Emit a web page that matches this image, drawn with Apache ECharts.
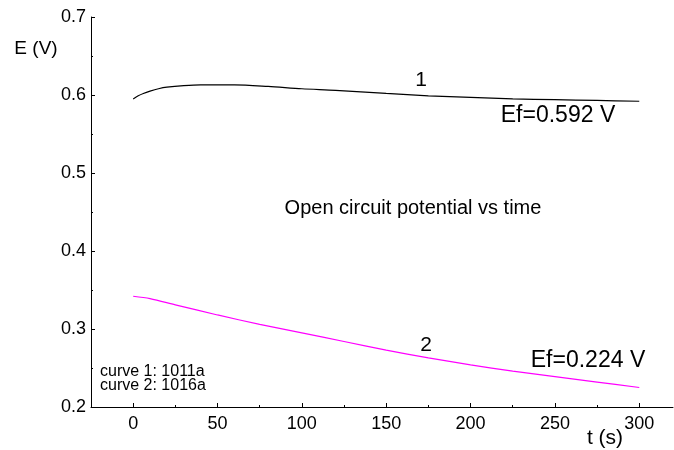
<!DOCTYPE html>
<html><head><meta charset="utf-8">
<script src="https://cdn.jsdelivr.net/npm/echarts@6/dist/echarts.min.js"></script>
<style>html,body{margin:0;padding:0;background:#fff}#c{width:674px;height:450px}</style>
</head><body><div id="c"></div>
<script>
// Curve 1 (1011a)
const t1 = [0, 3, 6, 10, 15, 20, 30, 40, 50, 60, 80, 100, 120, 150, 175, 200, 225, 250, 275, 300];
const e1 = [0.595, 0.599, 0.602, 0.605, 0.608, 0.610, 0.612, 0.613, 0.613, 0.613, 0.611, 0.608, 0.606, 0.602, 0.599, 0.597, 0.595, 0.594, 0.593, 0.592];
// Curve 2 (1016a)
const t2 = [0, 10, 25, 50, 75, 100, 125, 150, 175, 200, 225, 250, 275, 300];
const e2 = [0.342, 0.339, 0.331, 0.318, 0.306, 0.295, 0.284, 0.273, 0.263, 0.254, 0.246, 0.239, 0.232, 0.225];
const xMajor = [0, 50, 100, 150, 200, 250, 300];
const xMinor = [25, 75, 125, 175, 225, 275];
const yMinor = [0.25, 0.35, 0.45, 0.55, 0.65];

const FONT = '"Liberation Sans", Arial, sans-serif';
const chart = echarts.init(document.getElementById('c'), null, {renderer: 'canvas'});
const txt = (x, y, s, size, align) => ({
  type: 'text', x: x, y: y,
  style: {text: s, font: size + 'px ' + FONT, fill: '#000', align: align || 'center', verticalAlign: 'middle'}
});
chart.setOption({
  animation: false,
  backgroundColor: '#fff',
  grid: {left: 91, top: 17, right: 1, bottom: 43, containLabel: false},
  xAxis: [{
    type: 'value', min: -25, max: 320,
    axisLine: {show: true, onZero: false, lineStyle: {color: '#000', width: 1}},
    axisTick: {show: true, inside: true, length: 4, customValues: xMajor, lineStyle: {color: '#000'}},
    axisLabel: {show: true, customValues: xMajor, margin: 8, color: '#000', fontSize: 18, fontFamily: FONT},
    splitLine: {show: false}
  }, {
    type: 'value', min: -25, max: 320, position: 'bottom',
    axisLine: {show: false, onZero: false},
    axisTick: {show: true, inside: true, length: 2, customValues: xMinor, lineStyle: {color: '#000'}},
    axisLabel: {show: false},
    splitLine: {show: false}
  }],
  yAxis: [{
    type: 'value', min: 0.2, max: 0.7, interval: 0.1,
    axisLine: {show: true, onZero: false, lineStyle: {color: '#000', width: 1}},
    axisTick: {show: true, inside: true, length: 4, lineStyle: {color: '#000'}},
    axisLabel: {margin: 5, color: '#000', fontSize: 18, fontFamily: FONT, formatter: v => v.toFixed(1)},
    splitLine: {show: false}
  }, {
    type: 'value', min: 0.2, max: 0.7, position: 'left',
    axisLine: {show: false, onZero: false},
    axisTick: {show: true, inside: true, length: 2, customValues: yMinor, lineStyle: {color: '#000'}},
    axisLabel: {show: false},
    splitLine: {show: false}
  }],
  series: [{
    type: 'line', xAxisIndex: 0, yAxisIndex: 0, symbol: 'none', smooth: 0.3,
    data: t1.map((t, i) => [t, e1[i]]),
    lineStyle: {color: '#000', width: 1.2}
  }, {
    type: 'line', xAxisIndex: 0, yAxisIndex: 0, symbol: 'none', smooth: 0.3,
    data: t2.map((t, i) => [t, e2[i]]),
    lineStyle: {color: '#ff00ff', width: 1.2}
  }],
  graphic: [
    txt(36, 49, 'E (V)', 19),
    txt(605, 438, 't (s)', 21),
    txt(421, 80, '1', 21),
    txt(558, 116, 'Ef=0.592 V', 23),
    txt(413, 208, 'Open circuit potential vs time', 20),
    txt(426, 345, '2', 21),
    txt(588, 361, 'Ef=0.224 V', 23),
    txt(100, 372, 'curve 1: 1011a', 16, 'left'),
    txt(100, 386, 'curve 2: 1016a', 16, 'left')
  ]
});
</script></body></html>
